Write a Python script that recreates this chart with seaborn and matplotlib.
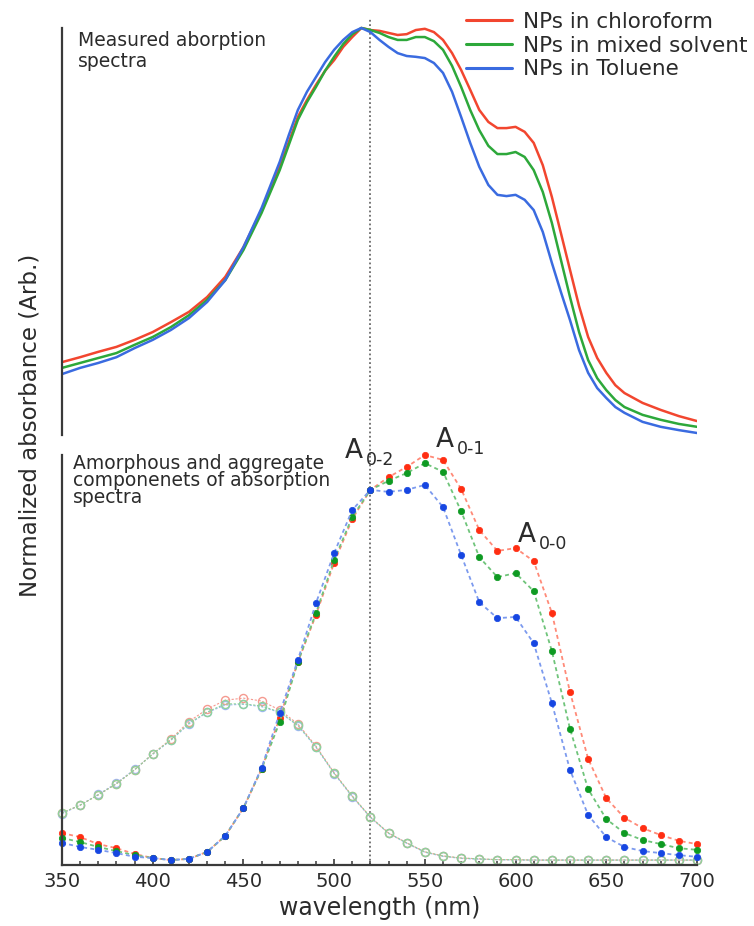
import matplotlib
matplotlib.use("Agg")
import matplotlib.pyplot as plt
import pandas as pd
import seaborn as sns

# ---------------- data ----------------
samples = ["NPs in chloroform", "NPs in mixed solvent", "NPs in Toluene"]

top_wavelength = [350, 360, 370, 380, 390, 400, 410, 420, 430, 440, 450, 460, 470,
                  475, 480, 485, 490, 495, 500, 505, 510, 515,
                  520, 525, 530, 535, 540, 545, 550, 555, 560, 565,
                  570, 575, 580, 585, 590, 595, 600, 605, 610, 615,
                  620, 625, 630, 635, 640, 645, 650, 655, 660,
                  670, 680, 690, 700]
top_chloroform = [0.189, 0.201, 0.214, 0.226, 0.243, 0.262, 0.286, 0.311, 0.347, 0.396,
                  0.468, 0.558, 0.663,
                  0.723, 0.784, 0.825, 0.862, 0.896, 0.922, 0.954, 0.978, 1.0,
                  0.995, 0.993, 0.988, 0.983, 0.985, 0.995, 0.998, 0.990, 0.971, 0.939,
                  0.898, 0.850, 0.801, 0.772, 0.757, 0.757, 0.760, 0.748, 0.721, 0.667,
                  0.590, 0.502, 0.413, 0.325, 0.250, 0.199, 0.163, 0.133, 0.114,
                  0.090, 0.073, 0.058, 0.046]
top_mixed = [0.175, 0.187, 0.199, 0.211, 0.231, 0.250, 0.274, 0.303, 0.340, 0.388,
             0.461, 0.551, 0.655,
             0.716, 0.777, 0.820, 0.857, 0.896, 0.930, 0.961, 0.985, 1.0,
             0.995, 0.988, 0.978, 0.971, 0.971, 0.978, 0.978, 0.968, 0.947, 0.908,
             0.857, 0.801, 0.752, 0.714, 0.694, 0.694, 0.699, 0.687, 0.655, 0.602,
             0.527, 0.437, 0.347, 0.262, 0.194, 0.150, 0.121, 0.097, 0.080,
             0.061, 0.049, 0.039, 0.032]
top_toluene = [0.160, 0.175, 0.187, 0.201, 0.223, 0.243, 0.267, 0.296, 0.335, 0.388,
               0.468, 0.563, 0.675,
               0.740, 0.801, 0.845, 0.881, 0.917, 0.947, 0.971, 0.990, 1.0,
               0.990, 0.971, 0.954, 0.939, 0.932, 0.930, 0.927, 0.915, 0.891, 0.845,
               0.784, 0.721, 0.663, 0.619, 0.595, 0.592, 0.595, 0.583, 0.558, 0.505,
               0.430, 0.359, 0.291, 0.218, 0.163, 0.126, 0.102, 0.080, 0.066,
               0.044, 0.032, 0.024, 0.017]

bot_wavelength = list(range(350, 701, 10))
agg_chloroform = [0.078, 0.068, 0.051, 0.041, 0.027, 0.017, 0.012, 0.015, 0.032, 0.071,
                  0.139, 0.234, 0.359, 0.495, 0.610, 0.737, 0.844, 0.915, 0.946, 0.971,
                  1.0, 0.988, 0.917, 0.817, 0.766, 0.773, 0.741, 0.615, 0.422, 0.259,
                  0.163, 0.115, 0.090, 0.073, 0.059, 0.051]
agg_mixed = [0.066, 0.056, 0.044, 0.034, 0.024, 0.017, 0.012, 0.015, 0.032, 0.071,
             0.139, 0.234, 0.349, 0.495, 0.615, 0.744, 0.849, 0.915, 0.937, 0.956,
             0.980, 0.959, 0.863, 0.751, 0.702, 0.712, 0.668, 0.522, 0.332, 0.185,
             0.112, 0.078, 0.061, 0.051, 0.041, 0.037]
agg_toluene = [0.054, 0.044, 0.037, 0.029, 0.020, 0.017, 0.012, 0.015, 0.032, 0.071,
               0.139, 0.237, 0.371, 0.500, 0.639, 0.761, 0.866, 0.915, 0.910, 0.915,
               0.927, 0.873, 0.756, 0.641, 0.602, 0.605, 0.541, 0.395, 0.232, 0.122,
               0.068, 0.044, 0.034, 0.029, 0.024, 0.020]
amo_chloroform = [0.127, 0.146, 0.171, 0.198, 0.232, 0.271, 0.307, 0.350, 0.380, 0.402,
                  0.407, 0.400, 0.378, 0.344, 0.290, 0.225, 0.168, 0.117, 0.078, 0.054,
                  0.032, 0.022, 0.017, 0.015, 0.013, 0.013, 0.012, 0.012, 0.012, 0.012,
                  0.012, 0.012, 0.012, 0.012, 0.012, 0.012]
amo_mixed = [0.127, 0.146, 0.171, 0.198, 0.232, 0.271, 0.305, 0.346, 0.373, 0.393,
             0.393, 0.388, 0.373, 0.341, 0.288, 0.224, 0.168, 0.117, 0.078, 0.054,
             0.032, 0.022, 0.017, 0.015, 0.013, 0.013, 0.012, 0.012, 0.012, 0.012,
             0.012, 0.012, 0.012, 0.012, 0.012, 0.012]
amo_toluene = [0.125, 0.146, 0.172, 0.200, 0.233, 0.270, 0.304, 0.344, 0.372, 0.390,
               0.392, 0.386, 0.372, 0.340, 0.287, 0.223, 0.166, 0.116, 0.077, 0.053,
               0.031, 0.021, 0.016, 0.014, 0.013, 0.012, 0.012, 0.012, 0.012, 0.012,
               0.012, 0.012, 0.012, 0.012, 0.012, 0.012]

peak_labels = [("0-2", 506, 0.993), ("0-1", 556, 1.020), ("0-0", 601.5, 0.788)]

# ---------------- style ----------------
sns.set_style("white")
plt.rcParams["font.family"] = ["DejaVu Sans"]
TXT = "#2b2b2b"
SPINE = "#3a3a3a"

line_cols = {"NPs in chloroform": "#F2462F", "NPs in mixed solvent": "#2DA83A",
             "NPs in Toluene": "#3A6BE0"}
dot_cols = {"NPs in chloroform": "#FF2E12", "NPs in mixed solvent": "#0E9A22",
            "NPs in Toluene": "#1646E2"}
dash_cols = {"NPs in chloroform": "#FF8A78", "NPs in mixed solvent": "#6FC47A",
             "NPs in Toluene": "#7C9AEE"}
open_cols = {"NPs in chloroform": "#F59A90", "NPs in mixed solvent": "#8ED39A",
             "NPs in Toluene": "#9DB6F5"}

W, H = 754, 926
fig = plt.figure(figsize=(W / 100, H / 100), dpi=100)


def fx(px):
    return px / W


def fy(py):
    return 1 - py / H


ax_top = fig.add_axes([fx(62), fy(455), (697 - 62) / W, (455 - 19) / H])
ax_bot = fig.add_axes([fx(62), fy(865), (697 - 62) / W, (865 - 455) / H])
for ax in (ax_top, ax_bot):
    ax.set_facecolor("none")

# ---------------- top panel ----------------
df_top = pd.DataFrame({
    "wavelength": top_wavelength * 3,
    "absorbance": top_chloroform + top_mixed + top_toluene,
    "sample": [s for s in samples for _ in top_wavelength],
})
sns.lineplot(data=df_top, x="wavelength", y="absorbance", hue="sample",
             hue_order=samples, palette=line_cols, lw=1.8, ax=ax_top)
ax_top.set_xlim(350, 700)
ax_top.set_ylim(-0.0364, 1.0218)
ax_top.set_xlabel("")
ax_top.set_ylabel("")
ax_top.set_xticks([])
ax_top.set_yticks([])
for s in ("top", "right", "bottom"):
    ax_top.spines[s].set_visible(False)
ax_top.spines["left"].set_bounds(0.012, 1.0)
ax_top.spines["left"].set_color(SPINE)
ax_top.spines["left"].set_linewidth(1.6)
ax_top.axvline(520, color="#6a6a6a", lw=1.3, ls=(0, (1, 1.4)), zorder=0)

handles, labels = ax_top.get_legend_handles_labels()
for h in handles:
    h.set_linewidth(2.2)
ax_top.legend(handles, labels, loc="upper left",
              bbox_to_anchor=(fx(466), fy(12)), bbox_transform=fig.transFigure,
              frameon=False, fontsize=15.5, handlelength=2.15, handletextpad=0.5,
              labelspacing=0.17, borderpad=0, borderaxespad=0, labelcolor=TXT)

# ---------------- bottom panel ----------------
amo = {"NPs in chloroform": amo_chloroform, "NPs in mixed solvent": amo_mixed,
       "NPs in Toluene": amo_toluene}
agg = {"NPs in chloroform": agg_chloroform, "NPs in mixed solvent": agg_mixed,
       "NPs in Toluene": agg_toluene}

for s in ["NPs in Toluene", "NPs in chloroform", "NPs in mixed solvent"]:
    sns.lineplot(x=bot_wavelength, y=amo[s], color=open_cols[s], lw=0.8,
                 linestyle=(0, (2, 1.5)), marker="o", markersize=5.8,
                 markerfacecolor="none", markeredgecolor=open_cols[s],
                 markeredgewidth=1.0, clip_on=False, ax=ax_bot)
for s in samples:
    sns.lineplot(x=bot_wavelength, y=agg[s], color=dash_cols[s], lw=1.3,
                 linestyle=(0, (2.2, 1.8)), marker="o", markersize=4.6,
                 markerfacecolor=dot_cols[s], markeredgecolor=dot_cols[s],
                 markeredgewidth=0.5, clip_on=False, ax=ax_bot)

ax_bot.axvline(520, color="#6a6a6a", lw=1.3, ls=(0, (1, 1.4)), zorder=0)
ax_bot.set_xlim(350, 700)
ax_bot.set_ylim(0, 1.0)
ax_bot.set_yticks([])
ax_bot.set_xticks(range(350, 701, 50))
ax_bot.set_xticks(range(350, 701, 10), minor=True)
ax_bot.tick_params(axis="x", which="major", direction="in", length=4.5, width=1.2,
                   color=SPINE, labelsize=14, labelcolor=TXT, pad=5)
ax_bot.tick_params(axis="x", which="minor", direction="in", length=3, width=1.1,
                   color=SPINE)
ax_bot.xaxis.set_ticks_position("bottom")
for s in ("top", "right"):
    ax_bot.spines[s].set_visible(False)
for s in ("left", "bottom"):
    ax_bot.spines[s].set_color(SPINE)
    ax_bot.spines[s].set_linewidth(1.6)
ax_bot.set_xlabel("wavelength (nm)", fontsize=17, color=TXT, labelpad=4)
ax_bot.set_ylabel("")

for sub, xw, yv in peak_labels:
    ax_bot.text(xw, yv, "A", fontsize=19, ha="left", va="baseline", color=TXT,
                clip_on=False)
    ax_bot.text(xw + 11.5, yv - 0.018, sub, fontsize=12.5, ha="left",
                va="baseline", color=TXT, clip_on=False)

# ---------------- text ----------------
fig.text(fx(78), fy(31), "Measured aborption\nspectra", fontsize=13.5, va="top",
         ha="left", linespacing=1.12, color=TXT)
fig.text(fx(73), fy(454), "Amorphous and aggregate\ncomponenets of absorption\nspectra",
         fontsize=13.5, va="top", ha="left", linespacing=0.86, color=TXT)
fig.text(fx(30), fy(425), "Normalized absorbance (Arb.)", fontsize=16.5,
         rotation=90, va="center", ha="center", color=TXT)

fig.savefig("out.png", dpi=100)
